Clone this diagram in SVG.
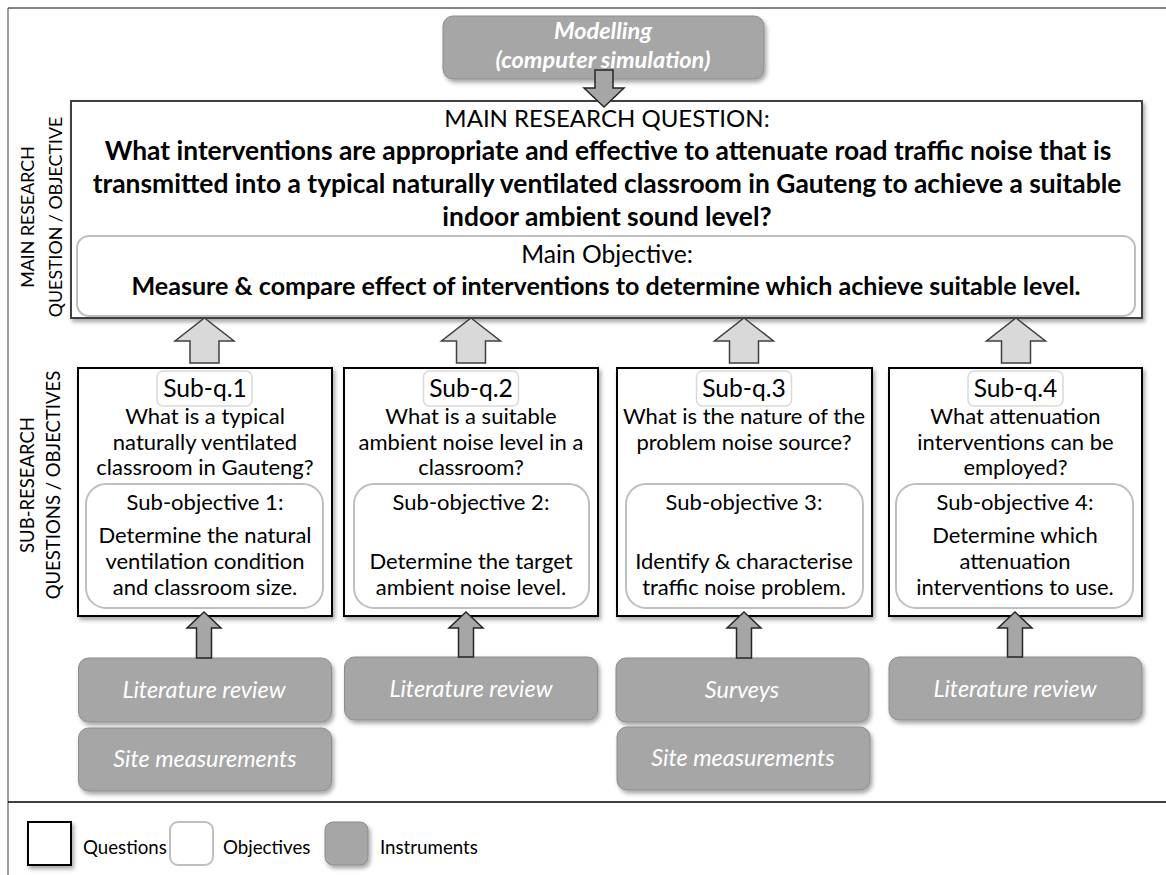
<svg xmlns="http://www.w3.org/2000/svg" width="1166" height="875" viewBox="0 0 1166 875">
<defs>
<filter id="sh" x="-10%" y="-10%" width="125%" height="130%">
<feDropShadow dx="2" dy="3" stdDeviation="2" flood-color="#000" flood-opacity="0.35"/>
</filter>
<style>
.f{font-family:Lato,"Liberation Sans",sans-serif;fill:#000}
.c{text-anchor:middle}
.b{font-weight:bold}
.wi{fill:#fff;font-style:italic}
.q{fill:#fff;stroke:#000;stroke-width:2}
.o{fill:#fff;stroke:#bfbfbf;stroke-width:2}
.lab{fill:#fff;stroke:#d9d9d9;stroke-width:1.5}
.ins{fill:#a6a6a6;stroke:#8c8c8c;stroke-width:1}
.up{fill:#d9d9d9;stroke:#404040;stroke-width:1.5}
.dn{fill:#a6a6a6;stroke:#262626;stroke-width:1.5}
.s22{font-size:22px}
.it{font-size:23.4px}
.sq{font-size:24.6px}
</style>
</defs>
<rect x="0" y="0" width="1166" height="875" fill="#fff"/>
<g id="frame">
<line x1="8" y1="8" x2="8" y2="875" stroke="#808080" stroke-width="1.5"/>
<line x1="8" y1="8" x2="1166" y2="8" stroke="#595959" stroke-width="1.5"/>
<line x1="8" y1="802" x2="1166" y2="802" stroke="#000" stroke-width="1.5"/>
</g>
<g id="side-labels" class="f" font-size="17.8">
<text class="f c" transform="translate(33.5,217) rotate(-90)">MAIN RESEARCH</text>
<text class="f c" transform="translate(61.5,217) rotate(-90)">QUESTION / OBJECTIVE</text>
<text class="f c" transform="translate(34,485) rotate(-90)" font-size="18.5">SUB-RESEARCH</text>
<text class="f c" transform="translate(60,485) rotate(-90)" font-size="18.5">QUESTIONS / OBJECTIVES</text>
</g>
<g id="modelling">
<rect x="443" y="16" width="321" height="63" rx="10" class="ins" filter="url(#sh)"/>
<text class="f c b wi" x="603" y="39" font-size="23.5">Modelling</text>
<text class="f c b wi" x="603" y="68" font-size="23.5">(computer simulation)</text>
</g>
<g id="main-question">
<rect x="71" y="101" width="1071" height="217" class="q" style="stroke:#404040" filter="url(#sh)"/>
<text class="f c" x="607" y="127" font-size="24">MAIN RESEARCH QUESTION:</text>
<text class="f c b" x="608" y="160" font-size="26.4">What interventions are appropriate and effective to attenuate road traffic noise that is</text>
<text class="f c b" x="607" y="193" font-size="26.4">transmitted into a typical naturally ventilated classroom in Gauteng to achieve a suitable</text>
<text class="f c b" x="607" y="226" font-size="26.4">indoor ambient sound level?</text>
</g>
<g id="main-objective">
<rect x="77" y="236" width="1058" height="80" rx="12" class="o"/>
<text class="f c" x="607" y="263" font-size="24.7">Main Objective:</text>
<text class="f c b" x="606" y="295" font-size="25.1">Measure &amp; compare effect of interventions to determine which achieve suitable level.</text>
</g>
<g id="subq1">
<rect x="78" y="368" width="254" height="248" class="q" filter="url(#sh)"/>
<rect x="157" y="371" width="95" height="35" rx="6" class="lab"/>
<text class="f c sq" x="205" y="397">Sub-q.1</text>
<text class="f c s22" x="205" y="424">What is a typical</text>
<text class="f c s22" x="205" y="450">naturally ventilated</text>
<text class="f c s22" x="205" y="475">classroom in Gauteng?</text>
<rect x="86" y="484" width="237" height="124" rx="20" class="o"/>
<text class="f c s22" x="205" y="510">Sub-objective 1:</text>
<text class="f c s22" x="205" y="543">Determine the natural</text>
<text class="f c s22" x="205" y="569">ventilation condition</text>
<text class="f c s22" x="205" y="595">and classroom size.</text>
</g>
<g id="subq2">
<rect x="344" y="368" width="254" height="248" class="q" filter="url(#sh)"/>
<rect x="423.5" y="371" width="95" height="35" rx="6" class="lab"/>
<text class="f c sq" x="471" y="397">Sub-q.2</text>
<text class="f c s22" x="471" y="424">What is a suitable</text>
<text class="f c s22" x="471" y="450">ambient noise level in a</text>
<text class="f c s22" x="471" y="475">classroom?</text>
<rect x="354" y="484" width="235" height="124" rx="20" class="o"/>
<text class="f c s22" x="471" y="510">Sub-objective 2:</text>
<text class="f c s22" x="471" y="569">Determine the target</text>
<text class="f c s22" x="471" y="595">ambient noise level.</text>
</g>
<g id="subq3">
<rect x="617" y="368" width="255" height="248" class="q" filter="url(#sh)"/>
<rect x="696.5" y="371" width="95" height="35" rx="6" class="lab"/>
<text class="f c sq" x="744" y="397">Sub-q.3</text>
<text class="f c s22" x="744" y="424">What is the nature of the</text>
<text class="f c s22" x="744" y="450">problem noise source?</text>
<rect x="626" y="484" width="237" height="124" rx="20" class="o"/>
<text class="f c s22" x="744" y="510">Sub-objective 3:</text>
<text class="f c s22" x="744" y="569">Identify &amp; characterise</text>
<text class="f c s22" x="744" y="595">traffic noise problem.</text>
</g>
<g id="subq4">
<rect x="889" y="368" width="253" height="248" class="q" filter="url(#sh)"/>
<rect x="968" y="371" width="95" height="35" rx="6" class="lab"/>
<text class="f c sq" x="1015.5" y="397">Sub-q.4</text>
<text class="f c s22" x="1015.5" y="424">What attenuation</text>
<text class="f c s22" x="1015.5" y="450">interventions can be</text>
<text class="f c s22" x="1015.5" y="475">employed?</text>
<rect x="896" y="484" width="237" height="124" rx="20" class="o"/>
<text class="f c s22" x="1015" y="510">Sub-objective 4:</text>
<text class="f c s22" x="1015" y="543">Determine which</text>
<text class="f c s22" x="1015" y="569">attenuation</text>
<text class="f c s22" x="1015" y="595">interventions to use.</text>
</g>
<g id="instruments">
<rect x="78.5" y="658" width="253" height="64" rx="10" class="ins" filter="url(#sh)"/>
<text class="f c wi it" x="204" y="698">Literature review</text>
<rect x="78.5" y="728" width="253" height="63" rx="10" class="ins" filter="url(#sh)"/>
<text class="f c wi it" x="205" y="767">Site measurements</text>
<rect x="344.5" y="657" width="253" height="63" rx="10" class="ins" filter="url(#sh)"/>
<text class="f c wi it" x="471" y="697">Literature review</text>
<rect x="616" y="658" width="253" height="64" rx="10" class="ins" filter="url(#sh)"/>
<text class="f c wi it" x="742" y="698">Surveys</text>
<rect x="617" y="727" width="253" height="63" rx="10" class="ins" filter="url(#sh)"/>
<text class="f c wi it" x="743" y="766">Site measurements</text>
<rect x="889" y="657" width="253" height="63" rx="10" class="ins" filter="url(#sh)"/>
<text class="f c wi it" x="1015" y="697">Literature review</text>
</g>
<g id="connectors">
<polygon class="dn" points="595,70 613,70 613,88 624,88 604,107 584,88 595,88"/>
<polygon class="up" points="204.5,318 234,341 219,341 219,363 190,363 190,341 175,341"/>
<polygon class="up" points="471,318 500.5,341 485.5,341 485.5,363 456.5,363 456.5,341 441.5,341"/>
<polygon class="up" points="744,318 773.5,341 758.5,341 758.5,363 729.5,363 729.5,341 714.5,341"/>
<polygon class="up" points="1016,318 1045.5,341 1030.5,341 1030.5,363 1001.5,363 1001.5,341 986.5,341"/>
<polygon class="dn" points="204,612 221,628 211.5,628 211.5,658 196.5,658 196.5,628 187,628"/>
<polygon class="dn" points="466,612 483,628 473.5,628 473.5,657 458.5,657 458.5,628 449,628"/>
<polygon class="dn" points="744,612 761,628 751.5,628 751.5,658 736.5,658 736.5,628 727,628"/>
<polygon class="dn" points="1015,612 1032,628 1022.5,628 1022.5,657 1007.5,657 1007.5,628 998,628"/>
</g>
<g id="legend">
<rect x="28" y="822" width="43" height="43" class="q" filter="url(#sh)"/>
<text class="f" x="83" y="854" font-size="18.7">Questions</text>
<rect x="170" y="822" width="43" height="43" rx="8" class="o"/>
<text class="f" x="223" y="854" font-size="18.7">Objectives</text>
<rect x="325" y="822" width="43" height="43" rx="8" class="ins" filter="url(#sh)"/>
<text class="f" x="380" y="854" font-size="18.7">Instruments</text>
</g>
</svg>
